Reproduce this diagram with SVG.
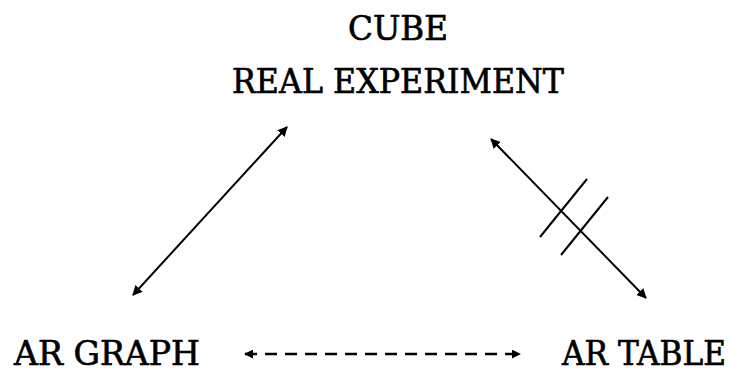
<svg xmlns="http://www.w3.org/2000/svg" width="734" height="372" viewBox="0 0 734 372">
<style>
text{font-family:"DejaVu Serif","Liberation Serif",serif;font-size:33px;fill:#000;stroke:#000;stroke-width:0.7;text-anchor:middle}
.c{stroke:#000;stroke-width:2;fill:none}
.d{stroke:#000;stroke-width:2.5;fill:none;stroke-dasharray:12 8}
</style>
<defs>
<marker id="ah" viewBox="0 0 10 10" refX="9" refY="5" markerWidth="5" markerHeight="5" orient="auto-start-reverse" markerUnits="strokeWidth">
<path d="M0,0 L10,5 L0,10 z" fill="#000"/>
</marker>
<marker id="ahd" viewBox="0 0 10 10" refX="9" refY="5" markerWidth="3.6" markerHeight="3.6" orient="auto-start-reverse" markerUnits="strokeWidth">
<path d="M0,0 L10,5 L0,10 z" fill="#000"/>
</marker>
</defs>
<g id="cube"><text x="398" y="40" textLength="100" lengthAdjust="spacingAndGlyphs">CUBE</text><text x="398" y="93" textLength="332" lengthAdjust="spacingAndGlyphs">REAL EXPERIMENT</text></g>
<g id="argraph"><text x="107" y="365" textLength="186" lengthAdjust="spacingAndGlyphs">AR GRAPH</text></g>
<g id="artable"><text x="644" y="365" textLength="164" lengthAdjust="spacingAndGlyphs">AR TABLE</text></g>
<g id="connectors">
<line class="c" x1="133" y1="295" x2="287" y2="127" marker-start="url(#ah)" marker-end="url(#ah)"/>
<line class="c" x1="491" y1="139" x2="646" y2="298" marker-start="url(#ah)" marker-end="url(#ah)"/>
<line class="c" x1="540" y1="237" x2="587" y2="179"/>
<line class="c" x1="561" y1="255" x2="608" y2="197"/>
<line class="d" x1="245" y1="354" x2="520" y2="354" marker-start="url(#ahd)" marker-end="url(#ahd)"/>
</g>
</svg>
